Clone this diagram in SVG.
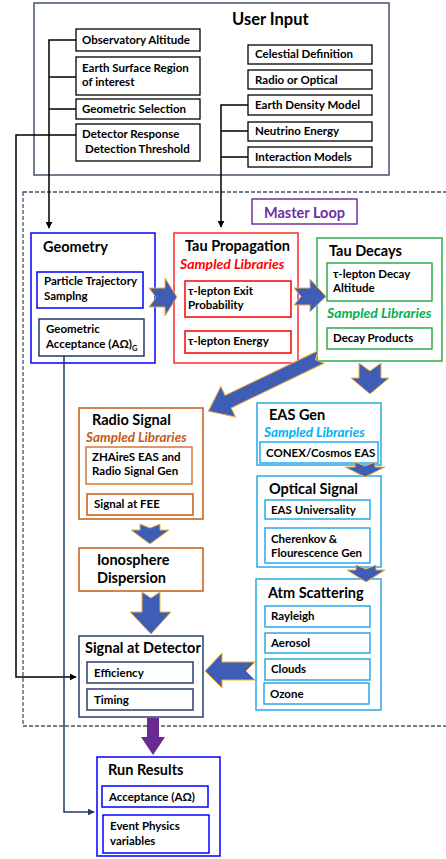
<svg xmlns="http://www.w3.org/2000/svg" width="446" height="859" viewBox="0 0 446 859">
<style>
text{font-family:Lato,"Open Sans","Liberation Sans",sans-serif;font-weight:bold;fill:#000}
.t{font-size:14.5px}
.ut{font-size:16.5px}
.i{font-size:11.5px}
.sl{font-size:14px;font-style:italic}
.sl2{font-size:13.5px;font-style:italic}
.in{fill:#fff;stroke:#000;stroke-width:1.3}
.bk{fill:#fff;stroke-width:1.5}
.ln{fill:none;stroke:#000;stroke-width:1.5}
.ba{fill:#3E5DB5;stroke:#F2B33D;stroke-width:1}
</style>
<defs>
<marker id="ah" viewBox="0 0 10 10" refX="9" refY="5" markerWidth="7" markerHeight="7" markerUnits="userSpaceOnUse" orient="auto">
<path d="M0,0 L10,5 L0,10 z" fill="#000"/>
</marker>
<marker id="ahn" viewBox="0 0 10 10" refX="9" refY="5" markerWidth="7" markerHeight="7" markerUnits="userSpaceOnUse" orient="auto">
<path d="M0,0 L10,5 L0,10 z" fill="#1F3864"/>
</marker>
</defs>

<g id="user-input">
<rect x="34" y="3" width="355" height="172" fill="#fff" stroke="#44546A" stroke-width="1.5"/>
<text class="ut" x="232" y="25">User Input</text>
<rect class="in" x="76" y="29" width="124" height="22"/><text class="i" x="82" y="44">Observatory Altitude</text>
<rect class="in" x="76" y="57" width="124" height="38"/><text class="i" x="82" y="72">Earth Surface Region</text><text class="i" x="82" y="86">of interest</text>
<rect class="in" x="76" y="99" width="124" height="20"/><text class="i" x="82" y="113">Geometric Selection</text>
<rect class="in" x="76" y="124" width="124" height="37"/><text class="i" x="82" y="138">Detector Response</text><text class="i" x="85" y="153">Detection Threshold</text>
<rect class="in" x="248" y="45" width="124" height="19"/><text class="i" x="255" y="58">Celestial  Definition</text>
<rect class="in" x="248" y="70" width="124" height="19"/><text class="i" x="255" y="84">Radio or Optical</text>
<rect class="in" x="248" y="95" width="124" height="20"/><text class="i" x="255" y="109">Earth Density Model</text>
<rect class="in" x="248" y="122" width="124" height="19"/><text class="i" x="255" y="135">Neutrino Energy</text>
<rect class="in" x="248" y="147" width="124" height="20"/><text class="i" x="255" y="161">Interaction Models</text>
</g>

<g id="master-loop">
<rect x="23" y="192" width="440" height="534" fill="none" stroke="#44546A" stroke-width="1.3" stroke-dasharray="4 2"/>
<rect x="252" y="199" width="105" height="25" fill="#fff" stroke="#7030A0" stroke-width="1.5"/>
<text class="t" x="304.5" y="218" text-anchor="middle" style="fill:#7030A0">Master Loop</text>
</g>

<g id="geometry">
<rect class="bk" x="31" y="233" width="124" height="130" stroke="#0000FF"/>
<text class="t" x="43" y="252">Geometry</text>
<rect class="bk" x="37" y="272" width="106" height="36" stroke="#0000FF"/>
<text class="i" x="44" y="285">Particle Trajectory</text><text class="i" x="44" y="300">Samplng</text>
<rect class="bk" x="39" y="319" width="105" height="37" stroke="#1F3864"/>
<text class="i" x="46" y="333">Geometric</text><text class="i" x="46" y="348">Acceptance (AΩ)<tspan font-size="7.5" dy="3">G</tspan></text>
</g>

<g id="tau-propagation">
<rect class="bk" x="174" y="233" width="124" height="130" stroke="#FF2A2A"/>
<text class="t" x="185" y="251">Tau Propagation</text>
<text class="sl" x="180" y="269" style="fill:#FF0000">Sampled Libraries</text>
<rect class="bk" x="185" y="281" width="106" height="36" stroke="#FF0000"/>
<text class="i" x="188" y="295">τ-lepton Exit</text><text class="i" x="188" y="309">Probability</text>
<rect class="bk" x="185" y="331" width="106" height="22" stroke="#FF0000"/>
<text class="i" x="188" y="345">τ-lepton Energy</text>
</g>

<g id="tau-decays">
<rect class="bk" x="317" y="238" width="125" height="123" stroke="#2EAD4B"/>
<text class="t" x="329" y="256">Tau Decays</text>
<rect class="bk" x="327" y="263" width="105" height="38" stroke="#2EAD4B"/>
<text class="i" x="333" y="278">τ-lepton Decay</text><text class="i" x="333" y="292">Altitude</text>
<text class="sl" x="327" y="318" style="fill:#00B050">Sampled Libraries</text>
<rect class="bk" x="327" y="328" width="105" height="21" stroke="#2EAD4B"/>
<text class="i" x="333" y="342">Decay Products</text>
</g>

<g id="radio-signal">
<rect class="bk" x="79" y="408" width="124" height="111" stroke="#C55A11"/>
<text class="t" x="92" y="425">Radio Signal</text>
<text class="sl2" x="86" y="442" style="fill:#C55A11">Sampled Libraries</text>
<rect class="bk" x="86" y="447" width="106" height="37" stroke="#D2773E"/>
<text class="i" x="92" y="461">ZHAireS EAS and</text><text class="i" x="92" y="475">Radio Signal Gen</text>
<rect class="bk" x="87" y="494" width="106" height="21" stroke="#C55A11"/>
<text class="i" x="94" y="508">Signal at FEE</text>
</g>

<g id="ionosphere">
<rect class="bk" x="79" y="548" width="124" height="43" stroke="#C55A11"/>
<text class="t" x="97" y="565">Ionosphere</text><text class="t" x="97" y="583">Dispersion</text>
</g>

<g id="eas-gen">
<rect class="bk" x="257" y="403" width="124" height="62" stroke="#29A9E8"/>
<text class="t" x="269" y="420">EAS Gen</text>
<text class="sl2" x="264" y="437" style="fill:#00B0F0">Sampled Libraries</text>
<rect class="bk" x="260" y="442" width="118" height="21" stroke="#29A9E8"/>
<text class="i" x="266" y="457">CONEX/Cosmos EAS</text>
</g>

<g id="optical-signal">
<rect class="bk" x="257" y="476" width="124" height="91" stroke="#29A9E8"/>
<text class="t" x="269" y="494">Optical Signal</text>
<rect class="bk" x="265" y="500" width="105" height="19" stroke="#29A9E8"/>
<text class="i" x="271" y="514">EAS Universality</text>
<rect class="bk" x="265" y="528" width="105" height="35" stroke="#29A9E8"/>
<text class="i" x="271" y="543">Cherenkov &amp;</text><text class="i" x="271" y="557">Flourescence Gen</text>
</g>

<g id="atm-scattering">
<rect class="bk" x="256" y="579" width="125" height="131" stroke="#29A9E8"/>
<text class="t" x="268" y="598">Atm Scattering</text>
<rect class="bk" x="265" y="606" width="105" height="21" stroke="#29A9E8"/><text class="i" x="271" y="620">Rayleigh</text>
<rect class="bk" x="265" y="633" width="105" height="20" stroke="#29A9E8"/><text class="i" x="271" y="647">Aerosol</text>
<rect class="bk" x="265" y="659" width="105" height="21" stroke="#29A9E8"/><text class="i" x="271" y="673">Clouds</text>
<rect class="bk" x="264" y="683" width="105" height="21" stroke="#29A9E8"/><text class="i" x="270" y="698">Ozone</text>
</g>

<g id="signal-at-detector">
<rect class="bk" x="79" y="636" width="124" height="81" stroke="#2B3F6B"/>
<text class="t" x="85" y="653">Signal at Detector</text>
<rect class="bk" x="87" y="662" width="106" height="21" stroke="#2B3F6B"/><text class="i" x="94" y="677">Efficiency</text>
<rect class="bk" x="87" y="689" width="106" height="21" stroke="#2B3F6B"/><text class="i" x="94" y="704">Timing</text>
</g>

<g id="run-results">
<rect class="bk" x="97" y="757" width="123" height="99" stroke="#0000FF"/>
<text class="t" x="108" y="775">Run Results</text>
<rect class="bk" x="102" y="786" width="106" height="21" stroke="#0000FF"/><text class="i" x="109" y="801">Acceptance (AΩ)</text>
<rect class="bk" x="103" y="815" width="106" height="38" stroke="#0000FF"/><text class="i" x="110" y="830">Event Physics</text><text class="i" x="110" y="845">variables</text>
</g>

<g id="connectors">
<path class="ln" d="M76,40 H49 V228" marker-end="url(#ah)"/>
<path class="ln" d="M76,77 H49 M76,109 H49"/>
<path class="ln" d="M76,135 H16 V677 H76" marker-end="url(#ah)"/>
<path class="ln" d="M248,105 H221 V227" marker-end="url(#ah)"/>
<path class="ln" d="M248,131 H221 M248,157 H221"/>
<path d="M64,356 V812 H94" fill="none" stroke="#1F3864" stroke-width="1.5" marker-end="url(#ahn)"/>
<polygon class="ba" points="149,288 165,288 165,278 177,297 165,316 165,307 149,307 156,297.5"/>
<polygon class="ba" points="294,288 310,288 310,279 326,296.5 310,312 310,305 294,305 301,296.5"/>
<polygon class="ba" transform="translate(321,357) rotate(154.3)" points="0,-7 103,-7 103,-17 125,0 103,17 103,7 0,7 6,0"/>
<polygon class="ba" points="359,363 370,371 381,363 381,378 389,378 370,394 351,378 359,378"/>
<polygon class="ba" points="355,462 365,466 375,462 375,467 385,467 365,477 345,467 355,467"/>
<polygon class="ba" points="356,565 366,569 376,565 376,570 385,570 366,582 347,570 356,570"/>
<polygon class="ba" points="140,524 150,528 160,524 160,530 169,530 150,544 131,530 140,530"/>
<polygon class="ba" points="142,592 151,598 160,592 160,612 171,612 151,634 130,612 142,612"/>
<polygon class="ba" points="255,662 246,671 255,680 222,680 222,688 205,671 222,653 222,662"/>
<polygon points="147,718 159,718 159,737 165,737 153,755 141,737 147,737" fill="#6A2A92"/>
</g>
</svg>
